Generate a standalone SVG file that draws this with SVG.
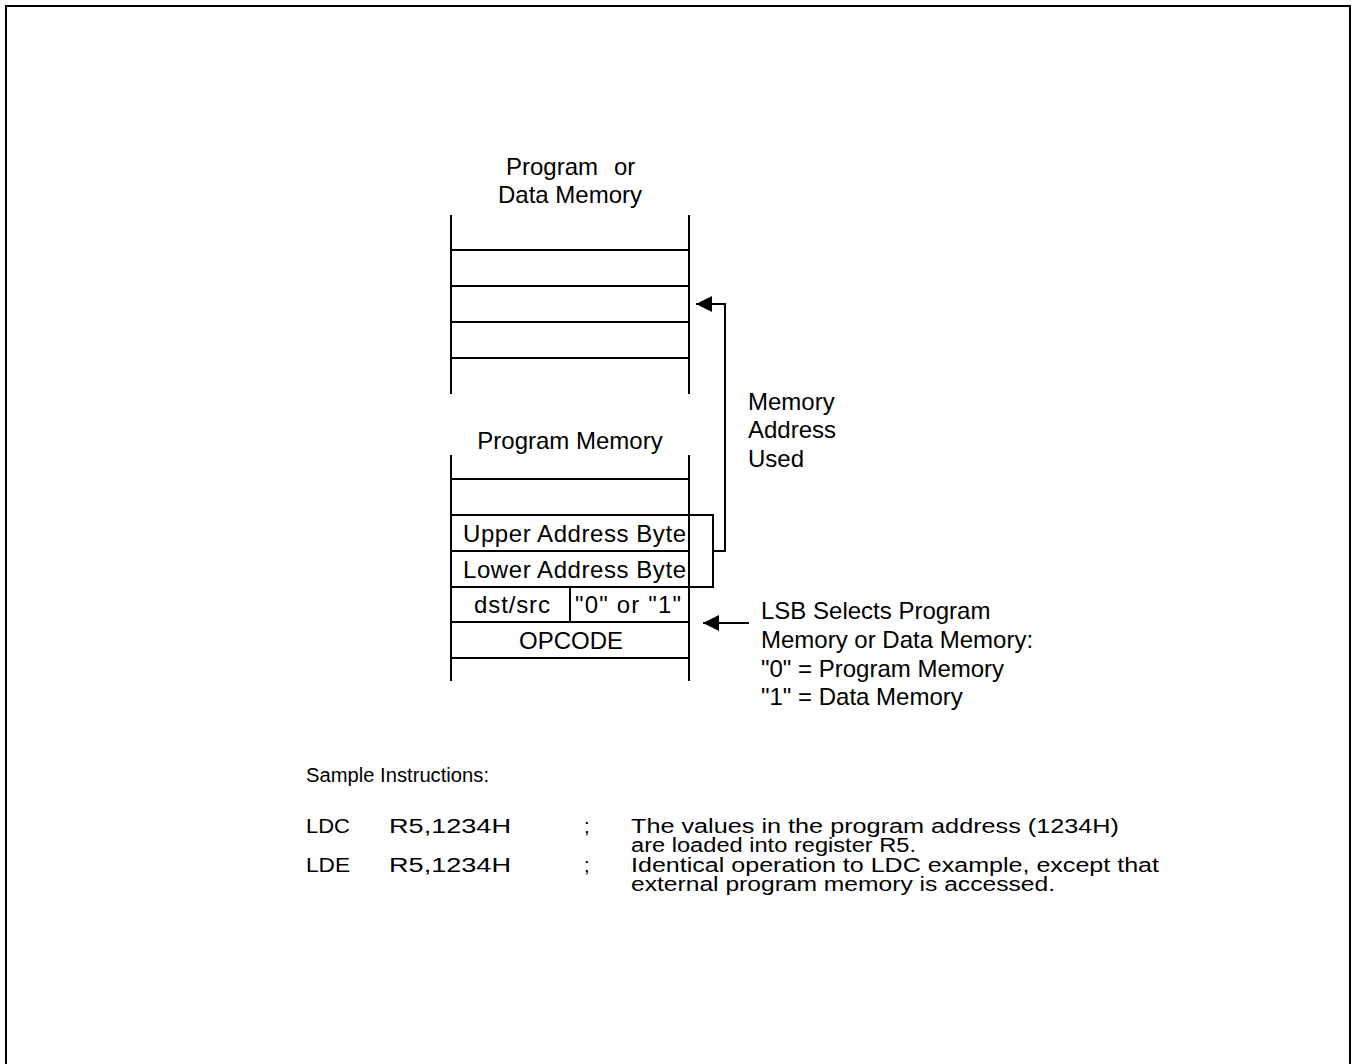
<svg xmlns="http://www.w3.org/2000/svg" width="1352" height="1064" viewBox="0 0 1352 1064">
<defs>
<style>
.t{font-family:"Liberation Sans",Arial,sans-serif;font-size:24px;fill:#000}
.s{font-family:"Liberation Sans",Arial,sans-serif;font-size:20px;fill:#000}
.m{text-anchor:middle}
.ln{stroke:#000;stroke-width:2;fill:none}
</style>
<marker id="ah" viewBox="0 0 16 16" refX="16" refY="8" markerWidth="16" markerHeight="16" markerUnits="userSpaceOnUse" orient="auto">
<path d="M0,0 L16,8 L0,16 Z" fill="#000"/>
</marker>
</defs>
<rect width="1352" height="1064" fill="#fff"/>
<path class="ln" d="M6,1064 V6 H1350 V1064"/>

<g id="data-memory">
<text class="t" x="506" y="175">Program</text>
<text class="t" x="614" y="175">or</text>
<text class="t m" x="570" y="203">Data Memory</text>
<path class="ln" d="M451,215 V394 M689,215 V394 M451,250 H689 M451,286 H689 M451,322 H689 M451,358 H689"/>
</g>

<g id="program-memory">
<text class="t m" x="570" y="449">Program Memory</text>
<path class="ln" d="M451,455 V681 M689,455 V681 M451,479 H689 M451,515 H689 M451,551 H689 M451,587 H689 M451,622 H689 M451,658 H689 M570,587 V622"/>
<text class="t" x="463" y="542" textLength="223" lengthAdjust="spacing">Upper Address Byte</text>
<text class="t" x="463" y="578" textLength="223" lengthAdjust="spacing">Lower Address Byte</text>
<text class="t" x="474" y="613" textLength="76" lengthAdjust="spacing">dst/src</text>
<text class="t" x="575" y="613" textLength="106" lengthAdjust="spacing">"0" or "1"</text>
<text class="t m" x="571" y="649">OPCODE</text>
</g>

<g id="connectors">
<path class="ln" d="M689,515 H713 V587 H689 M713,551 H725 V304 H696" marker-end="url(#ah)"/>
<path class="ln" d="M749,623 H703" marker-end="url(#ah)"/>
</g>

<g id="label-address">
<text class="t" x="748" y="410">Memory</text>
<text class="t" x="748" y="438">Address</text>
<text class="t" x="748" y="467">Used</text>
</g>

<g id="label-lsb">
<text class="t" x="761" y="619">LSB Selects Program</text>
<text class="t" x="761" y="648">Memory or Data Memory:</text>
<text class="t" x="761" y="677">"0" = Program Memory</text>
<text class="t" x="761" y="705">"1" = Data Memory</text>
</g>

<g id="samples">
<text class="s" x="306" y="782" textLength="183" lengthAdjust="spacingAndGlyphs">Sample Instructions:</text>
<text class="s" x="306" y="833" textLength="44" lengthAdjust="spacingAndGlyphs">LDC</text>
<text class="s" x="389" y="833" textLength="122" lengthAdjust="spacingAndGlyphs">R5,1234H</text>
<text class="s" x="584" y="833">;</text>
<text class="s" x="631" y="833" textLength="488" lengthAdjust="spacingAndGlyphs">The values in the program address (1234H)</text>
<text class="s" x="631" y="852" textLength="285" lengthAdjust="spacingAndGlyphs">are loaded into register R5.</text>
<text class="s" x="306" y="872" textLength="44" lengthAdjust="spacingAndGlyphs">LDE</text>
<text class="s" x="389" y="872" textLength="122" lengthAdjust="spacingAndGlyphs">R5,1234H</text>
<text class="s" x="584" y="872">;</text>
<text class="s" x="631" y="872" textLength="528" lengthAdjust="spacingAndGlyphs">Identical operation to LDC example, except that</text>
<text class="s" x="631" y="891" textLength="424" lengthAdjust="spacingAndGlyphs">external program memory is accessed.</text>
</g>
</svg>
